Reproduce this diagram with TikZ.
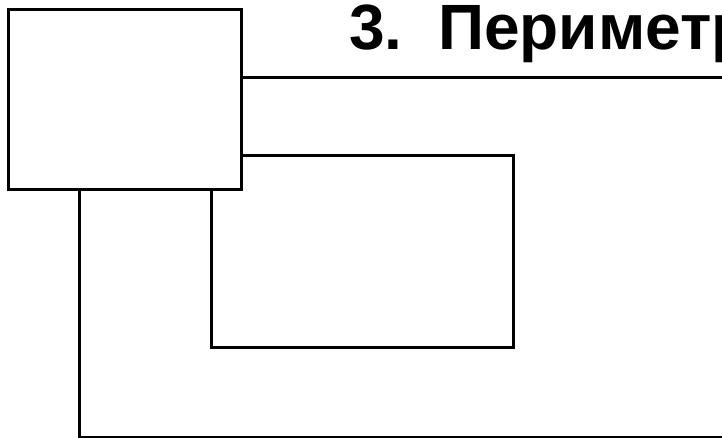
\documentclass[tikz,border=0pt]{standalone}
\usepackage{fontspec}
\setmainfont{Liberation Sans}
\usetikzlibrary{positioning, calc}
\tikzset{
  wire/.style={line width=3pt, draw=black},
  unitbox/.style={wire, fill=white, minimum width=233pt, minimum height=180pt,
    inner sep=0pt, outer sep=0pt, anchor=north west},
  headline/.style={font=\bfseries\fontsize{64}{66}\selectfont, inner sep=0pt, anchor=base west}
}

\begin{document}
\begin{tikzpicture}[x=1pt, y=-1pt]
    \useasboundingbox (0,0) rectangle (722,438);
    \clip (0,0) rectangle (722,438);
    % title, cut at the right edge
    \node[headline] (title) at (349,50) {3.\ \ Периметр};
    % outer loop
    \coordinate (outerNE) at (760,78);
    \coordinate (outerSW) at (79,437);
    \coordinate (outerSE) at (760,437);
    % inner loop
    \coordinate (innerNE) at (513,156);
    \coordinate (innerSE) at (513,347);
    \coordinate (innerSW) at (211,347);
    \node[unitbox] (unit) at (8,10) {};
    \draw[wire] (unit.east |- outerNE) -- (outerNE);
    \draw[wire] (unit.south -| outerSW) -- (outerSW) -- (outerSE);
    \draw[wire, line join=miter] (unit.east |- innerNE) -- (innerNE) -- (innerSE)
      -- (innerSW) -- (unit.south -| innerSW);
  \end{tikzpicture}
\end{document}
